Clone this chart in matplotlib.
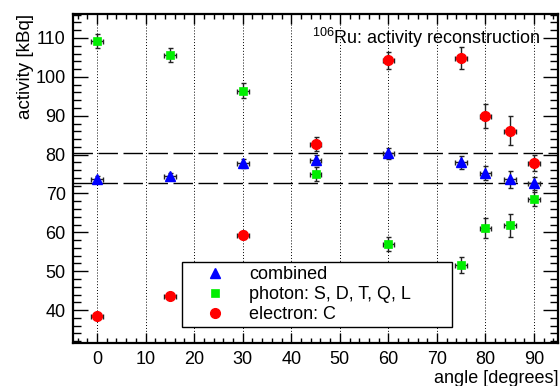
import matplotlib
matplotlib.use('Agg')
import matplotlib.pyplot as plt
from matplotlib.ticker import MultipleLocator

plt.rcParams['font.family'] = ['Liberation Sans', 'DejaVu Sans']
plt.rcParams['mathtext.fontset'] = 'custom'
plt.rcParams['mathtext.rm'] = 'Liberation Sans'
plt.rcParams['mathtext.default'] = 'rm'

angles = [0, 15, 30, 45, 60, 75, 80, 85, 90]
angle_err = 1.2

combined = [73.6, 74.6, 77.8, 78.7, 80.4, 78.0, 75.3, 73.6, 72.6]
combined_err = [0.8, 0.6, 1.2, 1.3, 1.4, 1.7, 1.9, 2.3, 1.6]
photon = [109.2, 105.5, 96.4, 75.0, 57.0, 51.6, 61.1, 61.8, 68.6]
photon_err = [1.9, 1.8, 1.9, 1.7, 1.8, 2.0, 2.6, 3.0, 1.9]
electron = [38.5, 43.7, 59.4, 82.7, 104.3, 104.9, 89.9, 86.2, 77.8]
electron_err = [0.7, 0.8, 1.0, 1.8, 2.2, 2.8, 3.1, 3.7, 2.0]

band_lo = 72.8
band_hi = 80.3

fig = plt.figure(figsize=(5.6, 3.86), dpi=100)
ax = fig.add_axes([0.130, 0.111, 0.867, 0.853])

# dotted verticals at each major angle
for xv in range(0, 100, 10):
    ax.axvline(xv, color='black', ls=(0, (1, 2)), lw=0.7, zorder=0)

for yv in (band_lo, band_hi):
    ax.axhline(yv, color='black', ls=(0, (14, 4)), lw=1.0, zorder=1)

ebar = dict(xerr=angle_err, fmt='none', ecolor='#222222', elinewidth=1.0,
            capsize=1.8, capthick=1.0, zorder=2)
ax.errorbar(angles, combined, yerr=combined_err, **ebar)
ax.errorbar(angles, photon, yerr=photon_err, **ebar)
ax.errorbar(angles, electron, yerr=electron_err, **ebar)

ax.plot(angles, combined, ls='none', marker='^', ms=7, color='#0000ff',
        mec='#0000ff', label='combined', zorder=3)
ax.plot(angles, photon, ls='none', marker='s', ms=6.3, color='#00ee00',
        mec='#00ee00', mew=0.5, label='photon: S, D, T, Q, L', zorder=3)
ax.plot(angles, electron, ls='none', marker='o', ms=7, color='#ff0000',
        mec='#ff0000', label='electron: C', zorder=3)

ax.set_xlim(-5, 95)
ax.set_ylim(31.5, 116.2)

ax.xaxis.set_major_locator(MultipleLocator(10))
ax.xaxis.set_minor_locator(MultipleLocator(2))
ax.yaxis.set_major_locator(MultipleLocator(10))
ax.yaxis.set_minor_locator(MultipleLocator(2))

ax.tick_params(axis='both', which='both', direction='in', top=True, right=True,
               labelsize=13, width=1.0, colors='black')
ax.tick_params(axis='x', which='major', length=7)
ax.tick_params(axis='x', which='minor', length=3.6)
ax.tick_params(axis='y', which='major', length=11)
ax.tick_params(axis='y', which='minor', length=6)
ax.tick_params(axis='x', pad=6)
ax.tick_params(axis='y', pad=5)

for sp in ax.spines.values():
    sp.set_linewidth(1.6)

ax.set_xlabel('angle [degrees]', fontsize=13, loc='right', labelpad=1)
ax.set_ylabel('activity [kBq]', fontsize=13.5, loc='top', labelpad=1)

ax.text(0.963, 0.965, r'$^{106}$Ru: activity reconstruction', transform=ax.transAxes,
        ha='right', va='top', fontsize=13)

leg = ax.legend(loc='lower left', bbox_to_anchor=(0.225, 0.049, 0.556, 0.188),
                mode='expand', fontsize=13, frameon=True, fancybox=False,
                edgecolor='black', framealpha=1, borderaxespad=0,
                handlelength=3.3, handletextpad=0.2, labelspacing=0.18,
                borderpad=0.2)
leg.get_frame().set_linewidth(1.0)

fig.savefig('out.png', dpi=100)
